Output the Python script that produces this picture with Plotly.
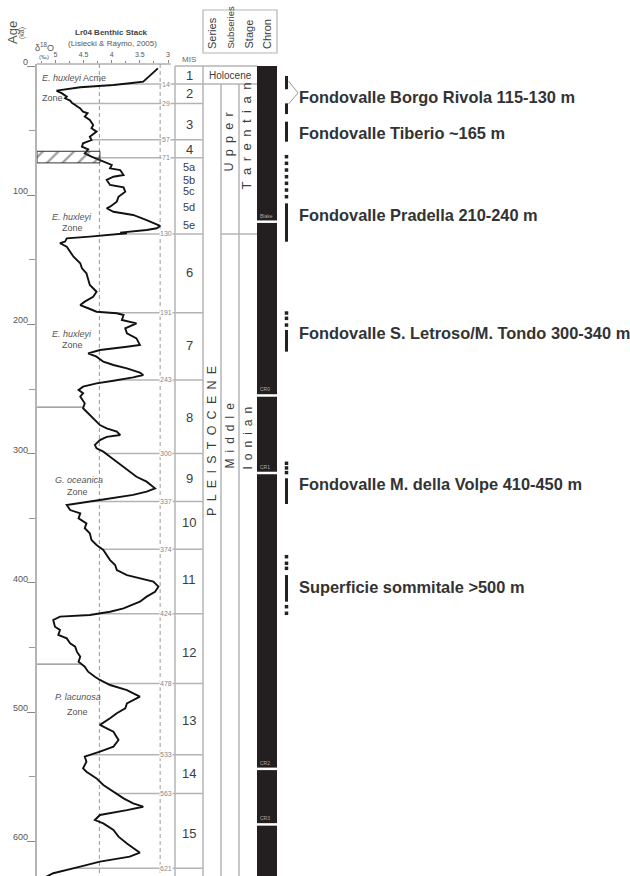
import numpy as np
import plotly.graph_objects as go

# ---------------- data ----------------
age_ka = [1.8, 3.5, 5.7, 7.7, 10.3, 12.1, 13.4, 14.7, 16.5, 19.1, 19.9, 21.0, 23.7, 25.0, 26.8, 28.4,
          30.2, 32.8, 35.4, 36.6, 39.2, 41.8, 45.7, 48.2, 50.8, 54.7, 57.3, 59.8, 62.5, 64.5, 67.6,
          70.2, 72.8, 75.3, 76.6, 79.2, 80.5, 84.4, 85.7, 88.2, 92.1, 93.9, 97.3, 101.2, 105.0,
          108.9, 110.1, 112.8, 115.3, 119.2, 121.7, 123.8, 125.6, 126.9, 129.0, 129.5, 132.1,
          133.4, 135.9, 137.2, 139.8, 143.7, 147.6, 152.7, 156.6, 160.4, 165.6, 169.5, 174.7,
          178.6, 182.4, 185.0, 187.5, 190.2, 191.4, 192.7, 196.6, 199.2, 203.0, 206.9, 210.8,
          215.9, 217.3, 219.8, 222.4, 225.0, 228.9, 231.4, 234.0, 237.4, 239.2, 241.0, 243.6,
          245.6, 248.2, 250.8, 253.3, 255.9, 261.1, 264.9, 268.8, 272.7, 277.9, 280.4, 283.0,
          285.6, 287.0, 289.5, 293.3, 295.9, 298.5, 302.4, 306.3, 310.1, 314.0, 317.9, 321.7,
          325.6, 326.9, 329.5, 332.0, 335.9, 339.8, 343.7, 346.2, 350.1, 354.0, 357.8, 361.7,
          366.9, 370.7, 374.6, 378.5, 382.4, 386.2, 390.1, 394.0, 396.5, 399.1, 403.0, 406.9,
          410.7, 414.6, 419.8, 422.4, 424.9, 426.2, 428.8, 434.0, 436.5, 440.4, 443.0, 446.8,
          449.4, 453.3, 457.2, 461.1, 464.9, 468.8, 472.7, 475.2, 479.1, 483.0, 488.1, 493.3,
          497.1, 501.0, 504.9, 510.0, 512.6, 515.2, 521.7, 526.8, 530.7, 534.6, 538.5, 543.6,
          546.2, 551.4, 556.5, 561.7, 566.8, 570.7, 573.3, 575.9, 579.7, 583.6, 586.2, 591.3,
          596.5, 601.7, 606.8, 608.9, 612.0, 615.8, 619.7, 624.8, 627.4]
d18o = [3.18, 3.22, 3.27, 3.33, 3.38, 3.44, 3.68, 3.97, 4.56, 4.98, 4.95, 4.89, 4.80, 4.83, 4.74, 4.71,
        4.65, 4.56, 4.51, 4.43, 4.48, 4.39, 4.33, 4.36, 4.27, 4.39, 4.36, 4.51, 4.53, 4.42, 4.48,
        4.36, 4.21, 4.09, 4.00, 4.03, 3.85, 3.79, 3.97, 4.09, 4.03, 3.79, 3.76, 3.88, 3.91,
        4.03, 4.09, 3.97, 3.62, 3.38, 3.23, 3.14, 3.20, 3.38, 3.85, 3.73, 4.39,
        4.80, 4.83, 4.92, 4.80, 4.74, 4.68, 4.56, 4.53, 4.45, 4.42, 4.39, 4.27,
        4.33, 4.48, 4.56, 4.42, 4.27, 3.91, 3.79, 3.82, 3.56, 3.76, 3.73, 3.56,
        3.50, 3.73, 4.21, 4.42, 4.27, 4.15, 3.97, 3.73, 3.50, 3.44, 3.62, 3.97,
        4.27, 4.51, 4.59, 4.51, 4.56, 4.48, 4.51, 4.42, 4.33, 4.21, 4.09, 3.91,
        3.85, 4.09, 4.21, 4.30, 4.27, 4.15, 4.03, 3.91, 3.79, 3.68, 3.56, 3.38,
        3.26, 3.23, 3.38, 3.62, 4.21, 4.80, 4.74, 4.56, 4.59, 4.45, 4.48, 4.39,
        4.36, 4.27, 4.15, 4.09, 4.03, 3.94, 3.91, 3.73, 3.50, 3.26, 3.17, 3.23,
        3.38, 3.50, 3.79, 4.03, 4.39, 4.92, 5.04, 5.01, 4.92, 4.95, 4.80, 4.74,
        4.65, 4.62, 4.56, 4.59, 4.48, 4.42, 4.30, 4.21, 4.03, 3.73, 3.50, 3.73,
        3.76, 3.91, 4.03, 4.21, 4.09, 3.97, 3.88, 3.97, 4.21, 4.48, 4.45, 4.51,
        4.45, 4.27, 4.15, 3.97, 3.79, 3.62, 3.44, 3.73, 4.21, 4.30, 4.15, 3.97,
        3.88, 3.73, 3.56, 3.50, 3.68, 4.21, 4.56, 5.04, 5.16]

mis_bounds = [14, 29, 57, 71, 130, 191, 243, 300, 337, 374, 424, 478, 533, 563, 621]
mis_names = ["1", "2", "3", "4", "5a", "5b", "5c", "5d", "5e", "6", "7", "8", "9", "10",
             "11", "12", "13", "14", "15"]
mis_name_age = [7, 21.1, 45.1, 64.5, 77.9, 88.2, 96.4, 108.9, 123.1, 160, 216, 272.4, 319.1,
                353.7, 397.8, 453.6, 506.7, 547.4, 593.9]

age_ticks = [0, 100, 200, 300, 400, 500, 600]
age_minor = [50, 150, 250, 350, 450, 550]
d18o_ticks = [5, 4.5, 4, 3.5, 3]
d18o_ticktext = ["5", "4.5", "4", "3.5", "3"]
d18o_minor = [5.25, 4.75, 4.25, 3.75, 3.25]
dashed_d18o = [4.22, 3.14]

zone_bounds = [264, 463]
hatch_ages = [66, 75]
hatch_d18o_edge = 4.21

zone_lines = ["<i>E. huxleyi</i> Acme", "Zone", "<i>E. huxleyi</i>", "Zone", "<i>E. huxleyi</i>", "Zone",
              "<i>G. oceanica</i>", "Zone", "<i>P. lacunosa</i>", "Zone"]
zone_line_age = [9.3, 24.5, 116.6, 125.6, 207.7, 216, 320.4, 329.5, 488.6, 499.8]

chron_breaks = [120.5, 255, 315, 544, 587]
chron_names = ["Blake", "CR0", "CR1", "CR2", "CR3"]

site_labels = ["Fondovalle Borgo Rivola 115-130 m", "Fondovalle Tiberio ~165 m",
               "Fondovalle Pradella 210-240 m", "Fondovalle S. Letroso/M. Tondo 300-340 m",
               "Fondovalle M. della Volpe 410-450 m", "Superficie sommitale >500 m"]
site_label_age = [24.2, 51.6, 115.3, 206.9, 323.5, 403.5]
bar_start = [7.7, 28.9, 43.1, 106.3, 204.3, 319.1, 394.0]
bar_end = [18.0, 37.2, 58.6, 136.0, 221.1, 339.0, 414.6]
dot_ages = [70.2, 75.3, 80.5, 85.7, 90.8, 96.0, 101.2, 191.2, 195.3, 200.5, 307.5, 311.1,
            314.7, 379.8, 384.9, 388.8, 418.5, 423.6]
bracket_ages = [11.6, 20.9, 29.4]

# ---------------- layout geometry (pixels) ----------------
W, H = 630, 876
Y_TOP = 64          # top of age axis in px
AGE0 = 66.0         # px of age 0
PXKA = 1.292        # px per ka
age_top = (Y_TOP - AGE0) / PXKA
age_bot = (H - AGE0) / PXKA
X_L, X_R = 37, 203
D_AT5, PX_PER_UNIT = 55.5, 56.25
d_left = 5 - (X_L - D_AT5) / PX_PER_UNIT
d_right = 5 - (X_R - D_AT5) / PX_PER_UNIT


def py(p):
    return 1 - p / H


GRAY = "#b4b4b4"
TXT = "#3c3c3c"
FONT = "Liberation Sans, Arial, sans-serif"

fig = go.Figure()

# curve
fig.add_trace(go.Scatter(x=d18o, y=age_ka, mode="lines", line=dict(color="#111", width=1.9),
                         xaxis="x", yaxis="y", hoverinfo="skip"))

# hatch band
fig.add_trace(go.Scatter(x=[d_left, hatch_d18o_edge, hatch_d18o_edge, d_left, d_left],
                         y=[hatch_ages[0], hatch_ages[0], hatch_ages[1], hatch_ages[1], hatch_ages[0]],
                         fill="toself", mode="lines", line=dict(color="#333", width=1),
                         fillcolor="rgba(255,255,255,0)",
                         fillpattern=dict(shape="/", fgcolor="#333", bgcolor="rgba(255,255,255,0)",
                                          size=11, solidity=0.2),
                         xaxis="x", yaxis="y", hoverinfo="skip"))

shapes = []
ann = []

# dashed verticals
for d in dashed_d18o:
    shapes.append(dict(type="line", xref="x", yref="y", x0=d, x1=d, y0=age_top, y1=age_bot,
                       line=dict(color="#999", width=1, dash="4px,3px"), layer="below"))

# top axis line
shapes.append(dict(type="line", xref="x", yref="paper", x0=d_left, x1=2.95, y0=py(Y_TOP), y1=py(Y_TOP),
                   line=dict(color="#888", width=1)))

# MIS boundary lines starting at the curve
for b in mis_bounds:
    d0 = float(np.interp(b, age_ka, d18o))
    shapes.append(dict(type="line", xref="x", yref="y", x0=d0, x1=d_right, y0=b, y1=b,
                       line=dict(color=GRAY, width=1.5), layer="below"))
    ann.append(dict(x=166, y=b, xref="x2", yref="y", text=str(b), showarrow=False,
                    xanchor="center", yanchor="middle",
                    font=dict(size=7, color="#888", family=FONT), bgcolor="white", borderpad=0))

# zone boundary lines from axis to curve
for b in zone_bounds:
    d1 = float(np.interp(b, age_ka, d18o))
    shapes.append(dict(type="line", xref="x", yref="y", x0=d_left, x1=d1, y0=b, y1=b,
                       line=dict(color="#888", width=1.3), layer="below"))

# column frame
for xc, a0 in [(175, 0), (203, 0), (221, 14), (239, 14)]:
    shapes.append(dict(type="line", xref="x2", yref="y", x0=xc, x1=xc, y0=a0, y1=age_bot,
                       line=dict(color=GRAY, width=1.5), layer="below"))
shapes.append(dict(type="line", xref="x2", yref="y", x0=175, x1=257, y0=0, y1=0,
                   line=dict(color=GRAY, width=1.5), layer="below"))
shapes.append(dict(type="line", xref="x2", yref="y", x0=203, x1=257, y0=mis_bounds[0], y1=mis_bounds[0],
                   line=dict(color=GRAY, width=1.5), layer="below"))
shapes.append(dict(type="line", xref="x2", yref="y", x0=221, x1=257, y0=mis_bounds[4], y1=mis_bounds[4],
                   line=dict(color=GRAY, width=1.5), layer="below"))

# chron column
shapes.append(dict(type="rect", xref="x2", yref="y", x0=257, x1=277, y0=0, y1=age_bot,
                   fillcolor="#231f20", line=dict(width=0)))
for b, nm in zip(chron_breaks, chron_names):
    shapes.append(dict(type="line", xref="x2", yref="y", x0=256, x1=278, y0=b, y1=b,
                       line=dict(color="white", width=2.5)))
    ann.append(dict(x=258, y=b, xref="x2", yref="y", text=nm, showarrow=False, xanchor="left",
                    yanchor="bottom", yshift=1, font=dict(size=5, color="#aaa", family=FONT)))

# header box
shapes.append(dict(type="rect", xref="x2", yref="paper", x0=203, x1=277, y0=py(53), y1=py(10),
                   line=dict(color=GRAY, width=1.2)))
for txt, xc, fs in [("Series", 212, 11), ("Subseries", 229.5, 9.5), ("Stage", 248, 11), ("Chron", 267, 11)]:
    ann.append(dict(x=xc, y=py(51), xref="x2", yref="paper", text=txt, showarrow=False, textangle=-90,
                    xanchor="center", yanchor="bottom", font=dict(size=fs, color=TXT, family=FONT)))

# MIS column labels
ann.append(dict(x=189, y=py(59), xref="x2", yref="paper", text="MIS", showarrow=False,
                xanchor="center", yanchor="middle", font=dict(size=8, color="#666", family=FONT)))
for nm, a in zip(mis_names, mis_name_age):
    fs = 11 if nm.startswith("5") else 13
    ann.append(dict(x=189, y=a, xref="x2", yref="y", text=nm, showarrow=False,
                    xanchor="center", yanchor="middle", font=dict(size=fs, color=TXT, family=FONT)))

# chronostratigraphy texts
SP = "\u2002"
ann.append(dict(x=230, y=7, xref="x2", yref="y", text="Holocene", showarrow=False,
                xanchor="center", yanchor="middle", font=dict(size=10, color=TXT, family=FONT)))
for txt, xc, a, fs in [("Upper", 229, 59.2, 12.5), ("Tarentian", 247, 54.6, 13),
                       ("Middle", 230, 286, 12), ("Ionian", 248, 288.3, 12),
                       ("PLEISTOCENE", 212, 290.2, 12.5)]:
    ann.append(dict(x=xc, y=a, xref="x2", yref="y", text=SP.join(list(txt)), showarrow=False,
                    textangle=-90, xanchor="center", yanchor="middle",
                    font=dict(size=fs, color=TXT, family=FONT)))

# zone labels
zone_x = [40, 40, 72, 72, 72, 72, 79, 77, 78, 77]
for i, (t, a) in enumerate(zip(zone_lines, zone_line_age)):
    left = i < 2
    ann.append(dict(x=zone_x[i], y=a, xref="x2", yref="y", text=t, showarrow=False,
                    xanchor="left" if left else "center", yanchor="middle",
                    font=dict(size=9, color="#555", family=FONT)))

# age tick labels
for t in age_ticks:
    ann.append(dict(x=30, y=t, xref="x2", yref="y", text=str(t), showarrow=False, xanchor="right",
                    yanchor="middle", yshift=4, font=dict(size=9, color="#555", family=FONT)))

# titles
ann.append(dict(x=12, y=py(33), xref="x2", yref="paper", text="Age", showarrow=False, textangle=-90,
                xanchor="center", yanchor="middle", font=dict(size=13, color="#555", family=FONT)))
ann.append(dict(x=22, y=py(33), xref="x2", yref="paper", text="(ka)", showarrow=False, textangle=-90,
                xanchor="center", yanchor="middle", font=dict(size=7, color="#555", family=FONT)))
ann.append(dict(x=111, y=py(32), xref="x2", yref="paper", text="<b>Lr04 Benthic Stack</b>", showarrow=False,
                xanchor="center", yanchor="middle", font=dict(size=8, color="#444", family=FONT)))
ann.append(dict(x=112, y=py(43), xref="x2", yref="paper", text="(Lisiecki & Raymo, 2005)", showarrow=False,
                xanchor="center", yanchor="middle", font=dict(size=8, color="#555", family=FONT)))
ann.append(dict(x=44, y=py(47), xref="x2", yref="paper", text="δ<sup>18</sup>O", showarrow=False,
                xanchor="center", yanchor="middle", font=dict(size=9, color="#555", family=FONT)))
ann.append(dict(x=44, y=py(57), xref="x2", yref="paper", text="(‰)", showarrow=False,
                xanchor="center", yanchor="middle", font=dict(size=6, color="#555", family=FONT)))

# right side: terrace ranges
bx, by = [], []
for s, e in zip(bar_start, bar_end):
    bx += [286.5, 286.5, None]
    by += [s, e, None]
fig.add_trace(go.Scatter(x=bx, y=by, mode="lines", line=dict(color="#222", width=3),
                         xaxis="x2", yaxis="y", hoverinfo="skip"))
fig.add_trace(go.Scatter(x=[286.5] * len(dot_ages), y=dot_ages, mode="markers",
                         marker=dict(symbol="square", size=3.5, color="#222"),
                         xaxis="x2", yaxis="y", hoverinfo="skip"))
fig.add_trace(go.Scatter(x=[288.5, 298, 288.5], y=bracket_ages, mode="lines",
                         line=dict(color="#999", width=1), xaxis="x2", yaxis="y", hoverinfo="skip"))
for t, a in zip(site_labels, site_label_age):
    ann.append(dict(x=297, y=a, xref="x2", yref="y", text=t, showarrow=False, xanchor="left",
                    yanchor="middle", font=dict(size=16.4, color="#333", family=FONT, weight="bold")))

fig.update_layout(
    width=W, height=H, margin=dict(l=0, r=0, t=0, b=0),
    paper_bgcolor="white", plot_bgcolor="rgba(0,0,0,0)", showlegend=False,
    xaxis=dict(domain=[X_L / W, X_R / W], range=[d_left, d_right], side="top", anchor="y",
               showgrid=False, zeroline=False, showline=False,
               tickvals=d18o_ticks, ticktext=d18o_ticktext, ticks="outside", ticklen=3,
               tickcolor="#888", tickfont=dict(size=7, color="#555", family=FONT),
               minor=dict(tickvals=d18o_minor, ticks="outside", ticklen=2, tickcolor="#888")),
    xaxis2=dict(domain=[0, 1], range=[0, W], anchor="y", visible=False),
    yaxis=dict(domain=[0, (H - Y_TOP) / H], range=[age_bot, age_top], anchor="x",
               showgrid=False, zeroline=False, showline=True, linecolor=GRAY, linewidth=1.5,
               tickvals=age_ticks, ticks="outside", ticklen=8, tickcolor="#888", showticklabels=False,
               minor=dict(tickvals=age_minor, ticks="outside", ticklen=6, tickcolor="#999")),
    shapes=shapes, annotations=ann,
)

fig.write_html("out.html", config={"displayModeBar": False},
               post_script="document.body.style.margin='0';document.body.style.overflow='hidden';")
